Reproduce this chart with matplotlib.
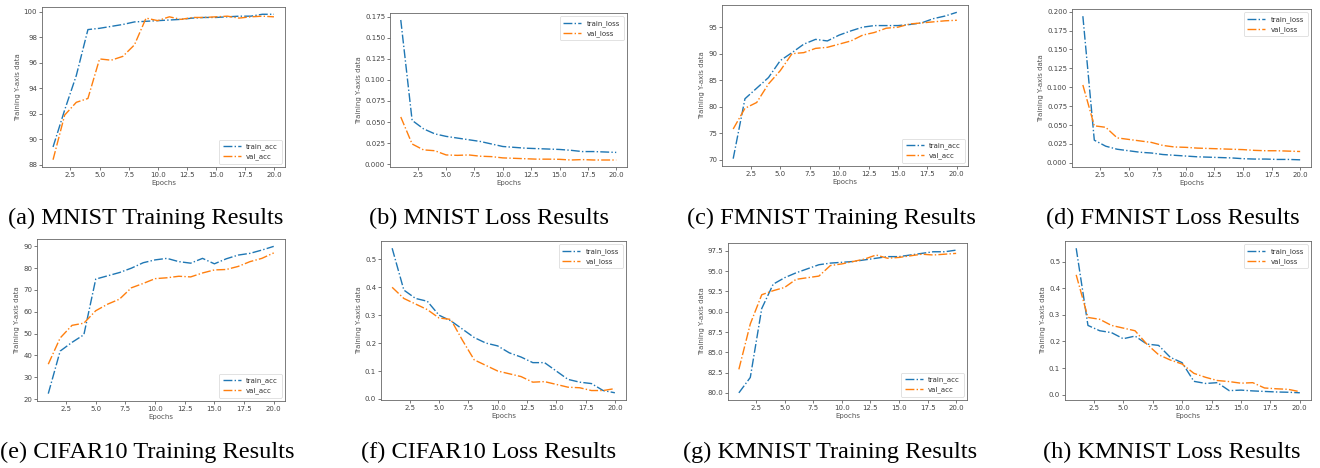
import matplotlib
matplotlib.use("Agg")
import matplotlib.pyplot as plt
import numpy as np

W, H = 1320, 468

epochs = np.arange(1, 21)

mnist_train_acc = [89.4, 92.3, 95.0, 98.6, 98.7, 98.85, 99.0, 99.2, 99.25, 99.3,
                   99.35, 99.4, 99.5, 99.55, 99.55, 99.6, 99.65, 99.65, 99.8, 99.8]
mnist_val_acc = [88.4, 91.9, 92.9, 93.2, 96.3, 96.2, 96.5, 97.4, 99.5, 99.3,
                 99.6, 99.4, 99.55, 99.55, 99.6, 99.65, 99.5, 99.6, 99.65, 99.6]
mnist_train_loss = [0.171, 0.052, 0.042, 0.036, 0.033, 0.031, 0.029, 0.027, 0.024, 0.021,
                    0.020, 0.019, 0.0185, 0.018, 0.0175, 0.0165, 0.015, 0.015, 0.0145, 0.014]
mnist_val_loss = [0.056, 0.024, 0.017, 0.016, 0.011, 0.0105, 0.011, 0.0095, 0.009, 0.0075,
                  0.007, 0.0065, 0.006, 0.006, 0.0058, 0.005, 0.0055, 0.005, 0.005, 0.005]

fmnist_train_acc = [70.2, 81.5, 83.5, 85.5, 88.7, 90.2, 91.8, 92.7, 92.4, 93.5,
                    94.3, 95.0, 95.3, 95.3, 95.3, 95.5, 95.8, 96.6, 97.1, 97.8]
fmnist_val_acc = [75.8, 79.7, 80.8, 84.3, 86.8, 90.0, 90.2, 91.0, 91.2, 91.8,
                  92.4, 93.5, 94.0, 94.8, 95.0, 95.6, 95.8, 96.0, 96.2, 96.3]
fmnist_train_loss = [0.194, 0.030, 0.022, 0.018, 0.016, 0.014, 0.013, 0.011, 0.010, 0.009,
                     0.008, 0.0075, 0.007, 0.0065, 0.0055, 0.005, 0.005, 0.0045, 0.0045, 0.004]
fmnist_val_loss = [0.103, 0.049, 0.047, 0.033, 0.031, 0.029, 0.027, 0.023, 0.021, 0.0205,
                   0.0195, 0.019, 0.0185, 0.018, 0.0175, 0.0165, 0.016, 0.016, 0.0155, 0.015]

cifar_train_acc = [22.5, 42.0, 46.0, 49.5, 75.0, 76.5, 78.0, 80.0, 82.5, 83.8,
                   84.5, 83.0, 82.3, 84.5, 82.0, 84.3, 86.0, 86.8, 88.3, 90.0]
cifar_val_acc = [36.0, 48.0, 53.8, 54.8, 60.5, 63.5, 65.8, 71.0, 73.0, 75.2,
                 75.6, 76.3, 76.0, 77.8, 79.2, 79.4, 80.8, 83.0, 84.5, 87.0]
cifar_train_loss = [0.54, 0.39, 0.36, 0.35, 0.30, 0.28, 0.25, 0.22, 0.20, 0.19,
                    0.165, 0.15, 0.13, 0.13, 0.10, 0.07, 0.06, 0.055, 0.03, 0.022]
cifar_val_loss = [0.40, 0.36, 0.34, 0.32, 0.29, 0.285, 0.21, 0.14, 0.12, 0.10,
                  0.09, 0.08, 0.06, 0.062, 0.052, 0.042, 0.04, 0.03, 0.03, 0.037]

kmnist_train_acc = [80.0, 81.9, 90.4, 93.4, 94.2, 94.8, 95.3, 95.8, 96.0, 96.1,
                    96.2, 96.4, 96.6, 96.8, 96.8, 97.0, 97.2, 97.4, 97.4, 97.6]
kmnist_val_acc = [82.9, 88.5, 92.1, 92.6, 93.0, 94.0, 94.2, 94.4, 95.7, 95.9,
                  96.2, 96.5, 97.0, 96.6, 96.7, 96.9, 97.1, 97.0, 97.1, 97.2]
kmnist_train_loss = [0.55, 0.26, 0.24, 0.233, 0.21, 0.22, 0.19, 0.185, 0.14, 0.12,
                     0.05, 0.042, 0.045, 0.015, 0.017, 0.014, 0.012, 0.010, 0.009, 0.007]
kmnist_val_loss = [0.45, 0.29, 0.283, 0.26, 0.25, 0.24, 0.19, 0.15, 0.13, 0.115,
                   0.08, 0.065, 0.053, 0.049, 0.043, 0.045, 0.025, 0.022, 0.02, 0.011]

captions = ["(a) MNIST Training Results", "(b) MNIST Loss Results",
            "(c) FMNIST Training Results", "(d) FMNIST Loss Results",
            "(e) CIFAR10 Training Results", "(f) CIFAR10 Loss Results",
            "(g) KMNIST Training Results", "(h) KMNIST Loss Results"]

# (train, val, kind) per panel
panels = [(mnist_train_acc, mnist_val_acc, "acc"),
          (mnist_train_loss, mnist_val_loss, "loss"),
          (fmnist_train_acc, fmnist_val_acc, "acc"),
          (fmnist_train_loss, fmnist_val_loss, "loss"),
          (cifar_train_acc, cifar_val_acc, "acc"),
          (cifar_train_loss, cifar_val_loss, "loss"),
          (kmnist_train_acc, kmnist_val_acc, "acc"),
          (kmnist_train_loss, kmnist_val_loss, "loss")]

# axes boxes in pixels: left, right, top, bottom
boxes = [(42, 285, 7, 167), (390, 627, 13, 167), (722, 968, 5, 166), (1072, 1311, 9, 167),
         (37, 285, 239, 401), (381, 626, 241, 400), (728, 967, 243, 400), (1065, 1311, 241, 400)]
cap_pos = [(146, 218), (489, 218), (831, 218), (1173, 218),
           (147, 452), (489, 452), (830, 452), (1172, 452)]

fig = plt.figure(figsize=(W / 100, H / 100), dpi=100)

for (train, val, kind), (l, r, t, b), cap, (cx, cy) in zip(panels, boxes, captions, cap_pos):
    ax = fig.add_axes([l / W, 1 - b / H, (r - l) / W, (b - t) / H])
    ax.plot(epochs, train, '-.', color='#1f77b4', lw=1.0, label='train_' + kind)
    ax.plot(epochs, val, '-.', color='#ff7f0e', lw=1.0, label='val_' + kind)
    ax.tick_params(labelsize=5.0, length=2, width=0.5, pad=1.5, colors='#444444')
    for s in ax.spines.values():
        s.set_color('#666666')
        s.set_linewidth(0.6)
    ax.set_xlabel('Epochs', fontsize=5.0, color='#555555', labelpad=1.5)
    ax.set_ylabel('Training Y-axis data', fontsize=5.0, color='#555555', labelpad=2)
    loc = 'lower right' if kind == 'acc' else 'upper right'
    leg = ax.legend(loc=loc, fontsize=5.0, handlelength=2.6, borderpad=0.5, labelspacing=0.5)
    leg.get_frame().set_linewidth(0.5)
    for txt in leg.get_texts():
        txt.set_color('#333333')
    fig.text(cx / W, 1 - cy / H, cap, ha='center', va='center',
             family='Liberation Serif', fontsize=17.6)

fig.savefig('out.png', dpi=100)
